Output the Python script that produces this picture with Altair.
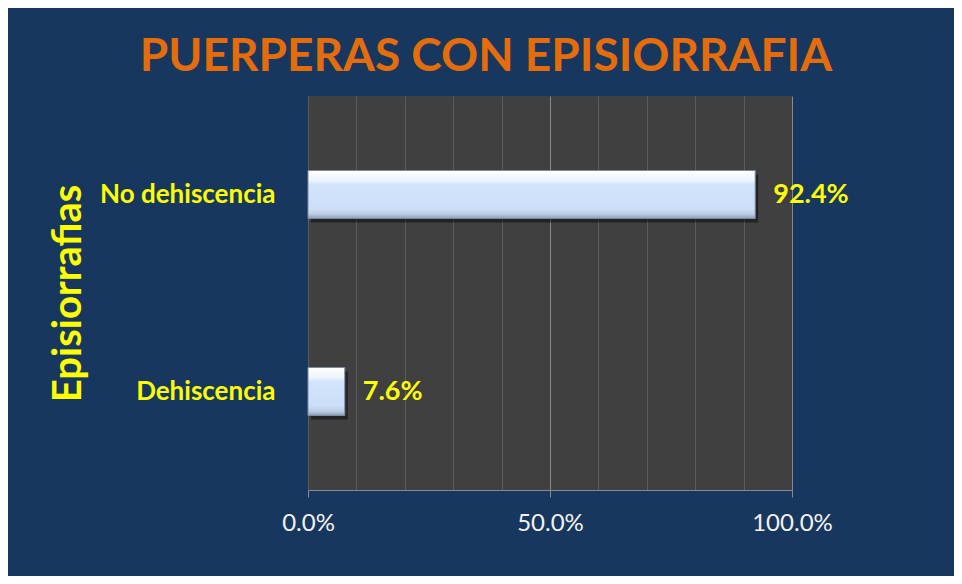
import altair as alt
import pandas as pd

categories = ["No dehiscencia", "Dehiscencia"]
values = [0.924, 0.076]
grid_values = [0.0, 0.1, 0.2, 0.3, 0.4, 0.5, 0.6, 0.7, 0.8, 0.9, 1.0]

df = pd.DataFrame({"cat": categories, "val": values})

FONT = "Lato"
YELLOW = "#FFFF00"
NAVY = "#17375E"

x_enc = alt.X(
    "val:Q",
    scale=alt.Scale(domain=[0, 1], nice=False, zero=True),
    axis=alt.Axis(
        values=grid_values,
        title=None,
        grid=True,
        gridColor={"condition": {"test": "round(datum.value*10) == 5 || round(datum.value*10) == 10", "value": "#8a8a8a"}, "value": "#5c5c5c"},
        gridWidth=1,
        tickColor={"condition": {"test": "round(datum.value*10) % 5 == 0", "value": "#8a8a8a"}, "value": "transparent"},
        tickSize=7,
        domainColor="#8a8a8a",
        labelExpr="round(datum.value*10) % 5 == 0 ? format(datum.value, '.1%') : ''",
        labelColor="#F2F2F2",
        labelFont=FONT,
        labelFontSize=24,
        labelFlush=False,
        labelPadding=14,
    ),
)

y_enc = alt.Y(
    "cat:N",
    sort=categories,
    axis=alt.Axis(
        title="Episiorrafias",
        titleColor=YELLOW,
        titleFont=FONT,
        titleFontSize=40,
        titleFontWeight="bold",
        titleAngle=270,
        titleX=-240,
        titleY=197,
        titleAlign="center",
        titleBaseline="middle",
        labelColor=YELLOW,
        labelFont=FONT,
        labelFontSize=26,
        labelFontWeight="bold",
        labelPadding=33,
        ticks=False,
        domain=False,
        grid=False,
    ),
)

base = alt.Chart(df)

shadow = base.mark_bar(size=48, color="#000000", opacity=0.45, xOffset=3, yOffset=4).encode(x=x_enc, y=y_enc)

bars = base.mark_bar(
    size=48,
    stroke="#7d8ca3",
    strokeWidth=1,
    color={
        "gradient": "linear",
        "x1": 0, "y1": 0, "x2": 0, "y2": 1,
        "stops": [
            {"offset": 0.0, "color": "#ffffff"},
            {"offset": 0.2, "color": "#eef5ff"},
            {"offset": 0.3, "color": "#d2e4fb"},
            {"offset": 0.8, "color": "#cddff8"},
            {"offset": 0.92, "color": "#b9c9e0"},
            {"offset": 1.0, "color": "#8c9bb0"},
        ],
    },
).encode(x=x_enc, y=y_enc)

labels = base.mark_text(
    align="left", baseline="middle", dx=18, font=FONT, fontSize=27, fontWeight="bold", color=YELLOW
).encode(x=x_enc, y=y_enc, text=alt.Text("val:Q", format=".1%"))

chart = (
    alt.layer(shadow, bars, labels)
    .properties(
        width=484,
        height=394,
        background=NAVY,
        padding={"left": 300, "top": 88, "right": 162, "bottom": 86},
        autosize=alt.AutoSizeParams(type="none"),
        title=alt.TitleParams(
            "PUERPERAS CON EPISIORRAFIA",
            color="#E46C0A",
            font=FONT,
            fontSize=46,
            fontWeight="bold",
            anchor="middle",
            dx=-64,
            dy=45,
            offset=24,
            baseline="alphabetic",
        ),
    )
    .configure_view(fill="#404040", stroke=None)
)

chart.save("out.html", embed_options={"renderer": "svg", "actions": False})
